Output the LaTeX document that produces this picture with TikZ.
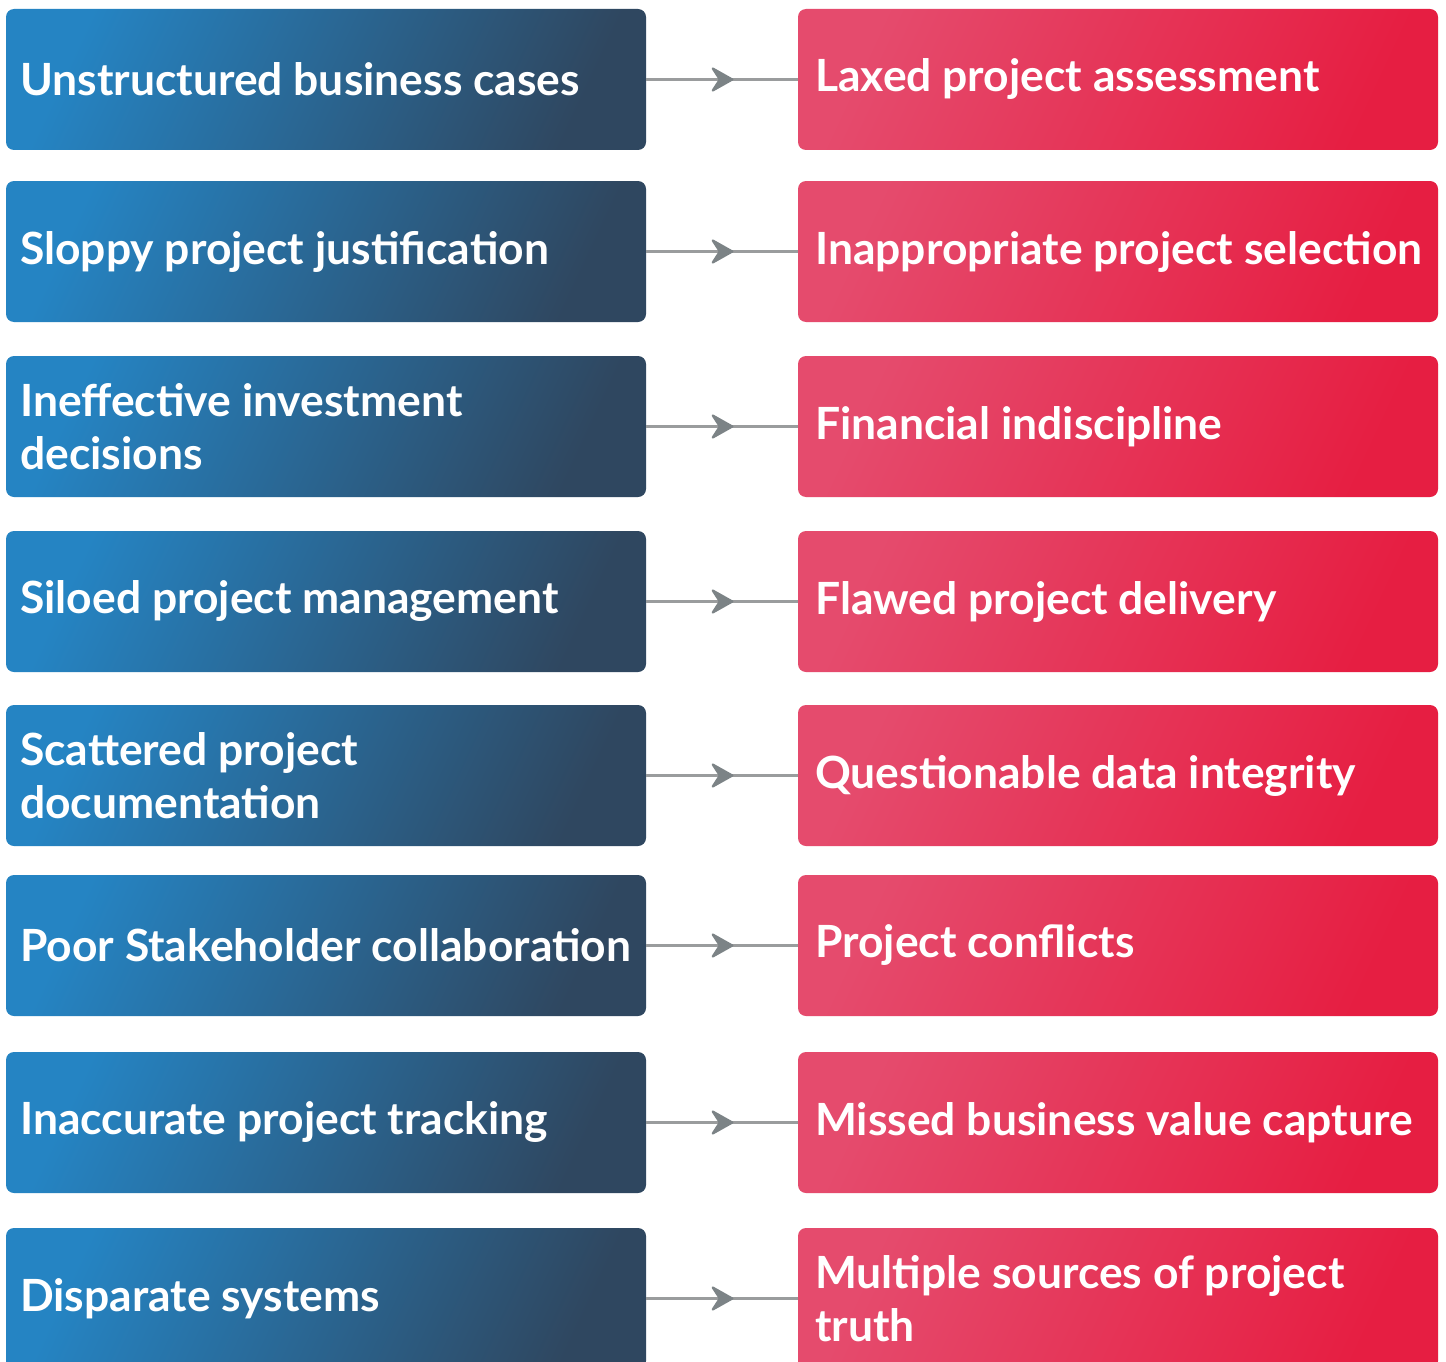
\documentclass[tikz,border=0pt]{standalone}
\usepackage{fontspec}
\setmainfont{Lato}[UprightFont=* Bold]
\usetikzlibrary{arrows.meta,decorations.markings}
\definecolor{blueA}{HTML}{2584C3}
\definecolor{blueB}{HTML}{2F4760}
\definecolor{redA}{HTML}{E54B6D}
\definecolor{redB}{HTML}{E61E42}
\definecolor{lineg}{HTML}{9A9C9D}
\definecolor{headg}{HTML}{7C8386}
\tikzset{
  box/.style={rounded corners=8pt, minimum width=640pt, minimum height=141pt, inner sep=0pt, outer sep=0pt},
  bluebox/.style={box, shading=axis, top color=blueA, bottom color=blueB, shading angle=65},
  redbox/.style={box, shading=axis, top color=redA, bottom color=redB, shading angle=65},
  txt/.style={anchor=west, text=white, align=left, font=\fontsize{44.4}{53}\selectfont, inner sep=0pt},
  conn/.style={draw=lineg, line width=2.2pt, postaction={decorate}, decoration={markings, mark=at position 0.575 with {\arrow[headg]{Stealth[length=25pt,width=28pt,inset=9pt,round]}}}}
}
\begin{document}
\begin{tikzpicture}[x=1pt,y=-1pt]
\useasboundingbox (0,0) rectangle (1446,1362);
\clip (0,0) rectangle (1446,1362);
\fill[white] (0,0) rectangle (1446,1362);
\foreach \i/\c/\lt/\rt in {
 1/79.5/{Unstructured business cases}/{Laxed project assessment},
 2/251.5/{Sloppy project justification}/{Inappropriate project selection},
 3/426.5/{Ineffective investment\\decisions}/{Financial indiscipline},
 4/601.5/{Siloed project management}/{Flawed project delivery},
 5/775.5/{Scattered project\\documentation}/{Questionable data integrity},
 6/945.5/{Poor Stakeholder collaboration}/{Project conflicts},
 7/1122.5/{Inaccurate project tracking}/{Missed business value capture},
 8/1298.5/{Disparate systems}/{Multiple sources of project\\truth}}{
  \node[bluebox] (L\i) at (326,\c) {};
  \node[redbox] (R\i) at (1118,\c) {};
  \node[txt] (LT\i) at ([xshift=14pt]L\i.west) {\lt};
  \node[txt] (RT\i) at ([xshift=17pt]R\i.west) {\rt};
  \path[conn] (L\i.east) -- (R\i.west);
}
\end{tikzpicture}
\end{document}
